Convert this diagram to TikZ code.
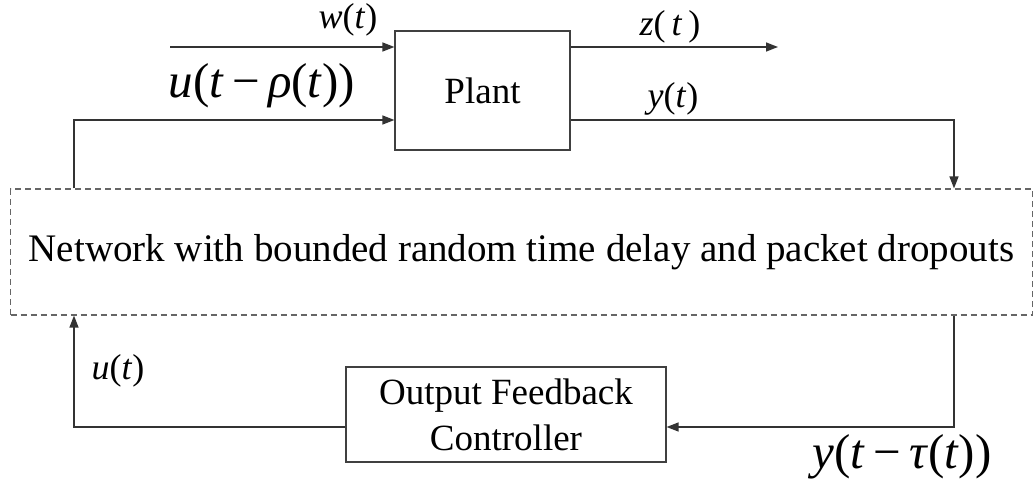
\documentclass[tikz,border=0pt]{standalone}
\usepackage{fontspec}
\setmainfont{Liberation Serif}
\usetikzlibrary{arrows.meta}
\newcommand{\vr}[1]{\textit{#1}}
\begin{document}
\begin{tikzpicture}[x=1pt,y=-1pt,
  blk/.style={draw=black!75,line width=1.2pt,inner sep=0pt,font=\fontsize{37}{46}\selectfont},
  netbox/.style={draw=black!60,line width=1.2pt,dash pattern=on 6pt off 4pt,inner sep=0pt,
    font=\fontsize{39}{44}\selectfont},
  wire/.style={draw=black!80,line width=1.5pt},
  arr/.style={wire,-{Triangle[length=12pt,width=9pt]}},
  lbl/.style={inner sep=0pt,font=\fontsize{36}{38}\selectfont},
  biglbl/.style={inner sep=0pt,font=\fontsize{49}{50}\selectfont}]
\useasboundingbox (0,0) rectangle (1034,484);

% blocks
\node[blk,minimum width=175pt,minimum height=119pt] (plant) at (482.5,90.5) {Plant};
\node[blk,minimum width=320pt,minimum height=95pt,align=center] (ctrl) at (506,414.5)
  {Output Feedback\\Controller};
\node[netbox,minimum width=1022pt,minimum height=126pt] (net) at (521.5,252)
  {Network with bounded random time delay and packet dropouts};

% free ends
\coordinate (win) at (170,47);
\coordinate (zout) at (778,47);

% signals
\draw[arr] (win) -- (win -| plant.west);
\draw[arr] (plant.east |- win) -- (zout);
\draw[arr] (plant.east |- 0,120) -| (net.north -| 954,0);
\draw[arr] (net.north -| 74,0) |- (plant.west |- 0,120);
\draw[arr] (net.south -| 954,0) |- (ctrl.east |- 0,427);
\draw[arr] (ctrl.west |- 0,427) -| (net.south -| 74,0);

% labels
\node[lbl] (lw) at (348,20) {\vr{w}(\vr{t})};
\node[biglbl] (lu) at (262,86) {\vr{u}(\vr{t}\,−\,\vr{ρ}(\vr{t}))};
\node[lbl] (lz) at (670,27) {\vr{z}(\,\vr{t}\,)};
\node[lbl] (ly) at (673,99) {\vr{y}(\vr{t})};
\node[lbl] (lut) at (118,371) {\vr{u}(\vr{t})};
\node[biglbl] (lyt) at (902,457) {\vr{y}(\vr{t}\,−\,\vr{τ}(\vr{t}))};
\end{tikzpicture}
\end{document}
